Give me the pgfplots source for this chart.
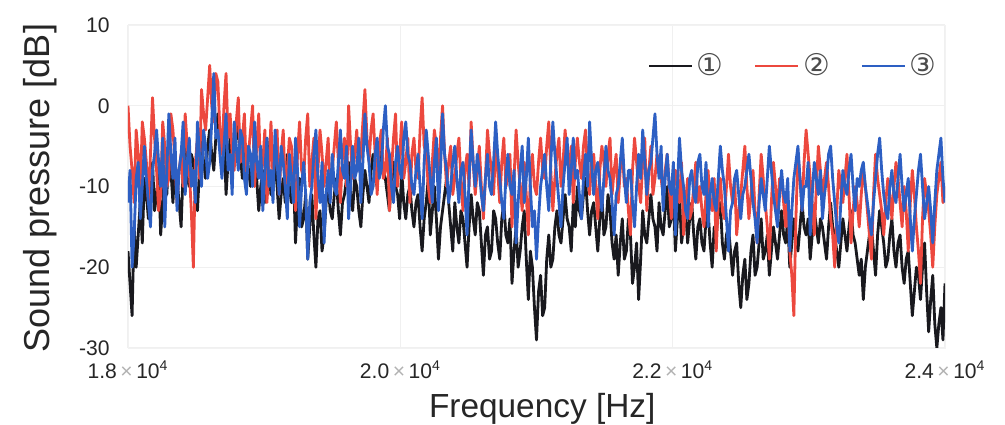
\documentclass[border=0pt]{standalone}
\usepackage{fontspec}
\setmainfont{Liberation Sans}
\newfontfamily\circfont{DejaVu Sans}
\usepackage{pgfplots}
\usepackage{pgfplotstable}
\pgfplotsset{compat=1.18}
\definecolor{cA}{RGB}{25,25,30}
\definecolor{cB}{RGB}{236,72,62}
\definecolor{cC}{RGB}{45,95,195}

\pgfplotstableread{
x a b c
18000 -18 0 -12
18015 -22 -5 -8
18030 -26 -8 -20
18045 -15 -12 -16
18060 -20 -3 -9
18075 -16 -6 -7
18090 -12 -11 -14
18105 -17 -2 -10
18120 -9 -4 -5
18135 -11 -7 -9
18150 -14 -12 -12
18165 -10 -6 -15
18180 -7 1 -8
18195 -13 -4 -6
18210 -11 -8 -3
18225 -8 -13 -7
18240 -16 -11 -10
18255 -12 -2 -4
18270 -8 -5 -15
18285 -11 -10 -8
18300 -6 -9 -1
18315 -8 -1 -6
18330 -12 -3 -9
18345 -7 -7 -4
18360 -9 -12 -13
18375 -12 -8 -8
18390 -15 -6 -6
18405 -8 -10 -2
18420 -5 -1 -11
18435 -9 -5 -7
18450 -10 -8 -4
18465 -6 -13 -10
18480 -7 -20 -8
18495 -11 -7 -12
18510 -13 -4 -2
18525 -8 -9 -6
18540 -4 2 -10
18555 -7 -1 -3
18570 -9 -3 -5
18585 -5 1 -9
18600 -3 5 -7
18615 -6 0 -2
18630 -8 -2 4
18645 -4 4 -4
18660 -1 3 -3
18675 -5 -3 -6
18690 -6 -6 -9
18705 -3 0 -5
18720 -11 4 -1
18735 -7 -4 -8
18750 -4 -1 -6
18765 -8 -6 -11
18780 -7 -8 -2
18795 -4 -2 -5
18810 -2 1 -8
18825 -6 -7 -3
18840 -9 -4 -4
18855 -7 -1 -9
18870 -5 -9 -11
18885 -8 -6 -5
18900 -10 -3 -6
18915 -7 0 -10
18930 -6 -10 -2
18945 -9 -5 -7
18960 -13 -1 -9
18975 -10 -9 -5
18990 -8 -7 -13
19005 -12 -3 -8
19020 -4 -12 -4
19035 -8 -8 -10
19050 -11 -2 -8
19065 -9 -9 -12
19080 -7 -6 -3
19095 -10 -3 -7
19110 -14 -11 -11
19125 -11 -6 -5
19140 -9 -3 -7
19155 -12 -10 -10
19170 -6 -8 -14
19185 -10 -4 -6
19200 -12 -5 -9
19215 -8 -9 -12
19230 -17 -13 -4
19245 -12 -6 -8
19260 -9 -2 -15
19275 -15 -8 -10
19290 -14 -9 -7
19305 -11 -4 -11
19320 -19 -1 -19
19335 -15 -10 -12
19350 -11 -7 -10
19365 -16 -4 -6
19380 -20 -14 -3
19395 -14 -8 -9
19410 -13 -3 -12
19425 -18 -6 -7
19440 -16 -10 -17
19455 -12 -7 -11
19470 -10 -4 -8
19485 -13 -11 -12
19500 -14 -8 -6
19515 -11 -5 -10
19530 -9 -2 -11
19545 -13 -7 -7
19560 -16 -12 -3
19575 -12 -6 -8
19590 -11 -4 -9
19605 -9 -10 -5
19620 -7 0 -14
19635 -11 -5 -10
19650 -13 -9 -5
19665 -9 -6 -9
19680 -10 -3 -8
19695 -13 -8 -4
19710 -15 -6 -12
19725 -11 -2 -7
19740 -8 2 -1
19755 -10 -4 -5
19770 -12 -7 -7
19785 -8 -3 -11
19800 -6 -1 -10
19815 -9 -6 -6
19830 -10 -11 -4
19845 -7 -5 -9
19860 -5 -3 -8
19875 -8 -9 -3
19890 -9 -8 0
19905 -11 -4 -5
19920 -13 -13 -6
19935 -9 -8 -10
19950 -7 -4 -12
19965 -10 -1 -7
19980 -11 -10 -5
19995 -14 -6 -8
20010 -8 -2 -9
20025 -12 -9 -4
20040 -14 -7 -2
20055 -11 -4 -6
20070 -10 -12 -7
20085 -13 -6 -10
20100 -15 -4 -11
20115 -12 -8 -8
20130 -11 -9 -6
20145 -15 -3 -10
20160 -18 1 -14
20175 -14 -5 -7
20190 -12 -6 -3
20205 -9 -10 -6
20220 -16 -12 -9
20235 -13 -7 -12
20250 -10 -3 -7
20265 -14 -5 -4
20280 -19 -8 -13
20295 -15 -4 -8
20310 -13 0 -1
20325 -11 -6 -6
20340 -9 -10 -8
20355 -12 -7 -12
20370 -15 -5 -10
20385 -18 -11 -7
20400 -12 -9 -5
20415 -15 -6 -9
20430 -17 -4 -12
20445 -13 -9 -8
20460 -14 -13 -7
20475 -17 -8 -11
20490 -20 -6 -16
20505 -15 -10 -9
20520 -11 -2 -3
20535 -14 -7 -7
20550 -16 -11 -10
20565 -12 -8 -6
20580 -13 -5 -8
20595 -17 -10 -11
20610 -21 -14 -13
20625 -16 -9 -9
20640 -15 -3 -6
20655 -19 -6 -10
20670 -18 -8 -11
20685 -13 -11 -7
20700 -14 -5 -2
20715 -17 -8 -6
20730 -19 -12 -9
20745 -14 -7 -12
20760 -12 -4 -14
20775 -16 -10 -9
20790 -17 -9 -6
20805 -14 -6 -10
20820 -22 -15 -11
20835 -18 -9 -8
20850 -15 -3 -17
20865 -20 -7 -12
20880 -18 -10 -8
20895 -15 -13 -5
20910 -13 -7 -12
20925 -19 -11 -9
20940 -24 -16 -4
20955 -18 -9 -10
20970 -20 -6 -15
20985 -25 -10 -13
21000 -29 -11 -19
21015 -23 -7 -14
21030 -21 -4 -10
21045 -26 -8 -8
21060 -25 -9 -6
21075 -19 -5 -10
21090 -16 -2 -13
21105 -20 -8 -7
21120 -19 -13 -2
21135 -15 -9 -6
21150 -13 -6 -9
21165 -16 -4 -12
21180 -17 -10 -15
21195 -14 -7 -10
21210 -11 -3 -7
21225 -14 -6 -4
21240 -15 -8 -11
21255 -18 -5 -8
21270 -12 -12 -4
21285 -15 -7 -9
21300 -10 -4 -8
21315 -13 -7 -11
21330 -14 -9 -14
21345 -11 -5 -9
21360 -9 -3 -6
21375 -13 -8 -10
21390 -16 -11 -2
21405 -13 -7 -7
21420 -12 -6 -11
21435 -15 -10 -8
21450 -18 -14 -7
21465 -14 -8 -10
21480 -11 -5 -13
21495 -16 -7 -9
21510 -15 -10 -5
21525 -11 -6 -8
21540 -13 -4 -9
21555 -17 -11 -12
21570 -19 -8 -16
21585 -16 -6 -11
21600 -21 -12 -10
21615 -17 -8 -7
21630 -14 -5 -4
21645 -19 -10 -9
21660 -18 -9 -12
21675 -14 -13 -8
21690 -16 -16 -8
21705 -22 -8 -12
21720 -20 -4 -15
21735 -17 -7 -10
21750 -24 -10 -6
21765 -19 -12 -9
21780 -13 -7 -3
21795 -16 -4 -7
21810 -17 -13 -11
21825 -14 -8 -8
21840 -11 -5 -7
21855 -14 -11 -4
21870 -15 -9 -1
21885 -18 -6 -6
21900 -12 -7 -9
21915 -15 -9 -5
21930 -16 -11 -13
21945 -13 -8 -9
21960 -10 -6 -6
21975 -15 -10 -10
21990 -14 -14 -11
22005 -11 -9 -7
22020 -18 -8 -16
22035 -14 -11 -10
22050 -11 -12 -4
22065 -17 -7 -8
22080 -15 -16 -10
22095 -13 -12 -13
22110 -17 -9 -14
22125 -14 -14 -9
22140 -12 -13 -8
22155 -16 -10 -11
22170 -19 -7 -12
22185 -15 -12 -7
22200 -14 -10 -6
22215 -17 -13 -10
22230 -18 -15 -11
22245 -14 -11 -7
22260 -13 -8 -15
22275 -17 -12 -11
22290 -20 -13 -9
22305 -15 -9 -12
22320 -16 -18 -13
22335 -13 -12 -9
22350 -12 -9 -5
22365 -17 -13 -8
22380 -19 -14 -10
22395 -16 -10 -14
22410 -15 -6 -18
22425 -18 -10 -13
22440 -21 -12 -12
22455 -18 -9 -9
22470 -17 -16 -8
22485 -22 -13 -11
22500 -25 -11 -14
22515 -21 -8 -11
22530 -19 -5 -10
22545 -24 -10 -8
22560 -22 -14 -6
22575 -18 -11 -9
22590 -16 -8 -12
22605 -21 -13 -14
22620 -20 -17 -17
22635 -17 -11 -12
22650 -14 -6 -9
22665 -19 -9 -11
22680 -18 -12 -13
22695 -16 -15 -9
22710 -21 -19 -5
22725 -18 -12 -8
22740 -15 -7 -11
22755 -17 -10 -13
22770 -19 -13 -15
22785 -16 -9 -11
22800 -13 -9 -8
22815 -16 -12 -11
22830 -17 -15 -12
22845 -14 -11 -9
22860 -20 -18 -18
22875 -17 -21 -13
22890 -14 -26 -9
22905 -16 -14 -7
22920 -18 -6 -5
22935 -15 -9 -9
22950 -12 -13 -13
22965 -15 -7 -10
22980 -16 -3 -10
22995 -14 -6 -7
23010 -19 -9 -16
23025 -16 -12 -11
23040 -13 -16 -7
23055 -15 -10 -9
23070 -17 -5 -11
23085 -14 -8 -8
23100 -15 -11 -14
23115 -17 -9 -11
23130 -19 -7 -9
23145 -15 -10 -6
23160 -12 -14 -5
23175 -15 -16 -9
23190 -16 -20 -12
23205 -18 -13 -15
23220 -20 -8 -17
23235 -17 -10 -12
23250 -14 -12 -8
23265 -16 -9 -10
23280 -18 -6 -11
23295 -15 -11 -8
23310 -13 -17 -6
23325 -16 -13 -10
23340 -17 -10 -13
23355 -19 -12 -9
23370 -21 -15 -10
23385 -19 -11 -8
23400 -24 -8 -7
23415 -20 -10 -10
23430 -18 -13 -12
23445 -16 -16 -14
23460 -15 -19 -16
23475 -18 -11 -12
23490 -21 -6 -9
23505 -16 -9 -6
23520 -13 -11 -4
23535 -15 -13 -8
23550 -17 -16 -11
23565 -20 -12 -13
23580 -19 -9 -14
23595 -16 -11 -10
23610 -14 -14 -8
23625 -18 -10 -11
23640 -20 -7 -12
23655 -17 -9 -9
23670 -16 -12 -6
23685 -20 -15 -10
23700 -22 -10 -13
23715 -19 -13 -11
23730 -18 -18 -9
23745 -22 -12 -14
23760 -26 -8 -18
23775 -23 -11 -14
23790 -20 -15 -11
23805 -21 -18 -8
23820 -24 -22 -6
23835 -20 -14 -10
23850 -17 -9 -14
23865 -23 -11 -12
23880 -28 -13 -10
23895 -24 -16 -13
23910 -21 -20 -17
23925 -27 -15 -12
23940 -30 -11 -8
23955 -27 -9 -6
23970 -25 -7 -4
23985 -29 -12 -9
24000 -22 -10 -12
}\data

\begin{document}
\begin{tikzpicture}
\useasboundingbox (-2.56cm,-1.54cm) rectangle (17.54cm,6.96cm);
\begin{axis}[
  at={(0,0)}, anchor=south west,
  scale only axis, width=16.34cm, height=6.46cm,
  xmin=18000, xmax=24000, ymin=-30, ymax=10,
  scaled x ticks=false,
  xtick={18000,20000,22000,24000},
  xticklabels={1.8\,{\color{gray!60}×}\,10\textsuperscript{4},
               2.0\,{\color{gray!60}×}\,10\textsuperscript{4},
               2.2\,{\color{gray!60}×}\,10\textsuperscript{4},
               2.4\,{\color{gray!60}×}\,10\textsuperscript{4}},
  ytick={-30,-20,-10,0,10},
  yticklabels={-30,-20,-10,0,10},
  major tick length=0pt,
  grid=major,
  major grid style={draw=gray!12, line width=0.6pt},
  axis line style={draw=gray!10},
  tick label style={font=\fontsize{12}{14}\selectfont, text=black!85},
  xticklabel style={yshift=-4pt},
  yticklabel style={xshift=-7pt},
  xlabel={Frequency [Hz]},
  ylabel={Sound pressure [dB]},
  xlabel style={at={(axis description cs:0.507,-0.14)}, anchor=north, inner sep=0pt, font=\fontsize{19}{22}\selectfont, text=black!85},
  ylabel style={at={(axis description cs:-0.108,0.495)}, anchor=center, inner sep=0pt, font=\fontsize{20.5}{24}\selectfont, text=black!85},
  legend style={draw=none, fill=none, at={(axis description cs:0.815,0.873)}, anchor=center,
    legend columns=3, font=\circfont\fontsize{17}{19}\selectfont, text=black!70,
    /tikz/every even column/.append style={column sep=5.5mm}},
  legend image code/.code={\draw[#1, line width=1.2pt] (0cm,0cm) -- (0.86cm,0cm);},
  every axis plot/.append style={line width=1.6pt, line join=round},
]
\addplot[cA, no markers] table[x=x, y=a] {\data};
\addlegendentry{①}
\addplot[cB, no markers] table[x=x, y=b] {\data};
\addlegendentry{②}
\addplot[cC, no markers] table[x=x, y=c] {\data};
\addlegendentry{③}
\end{axis}
\end{tikzpicture}
\end{document}
